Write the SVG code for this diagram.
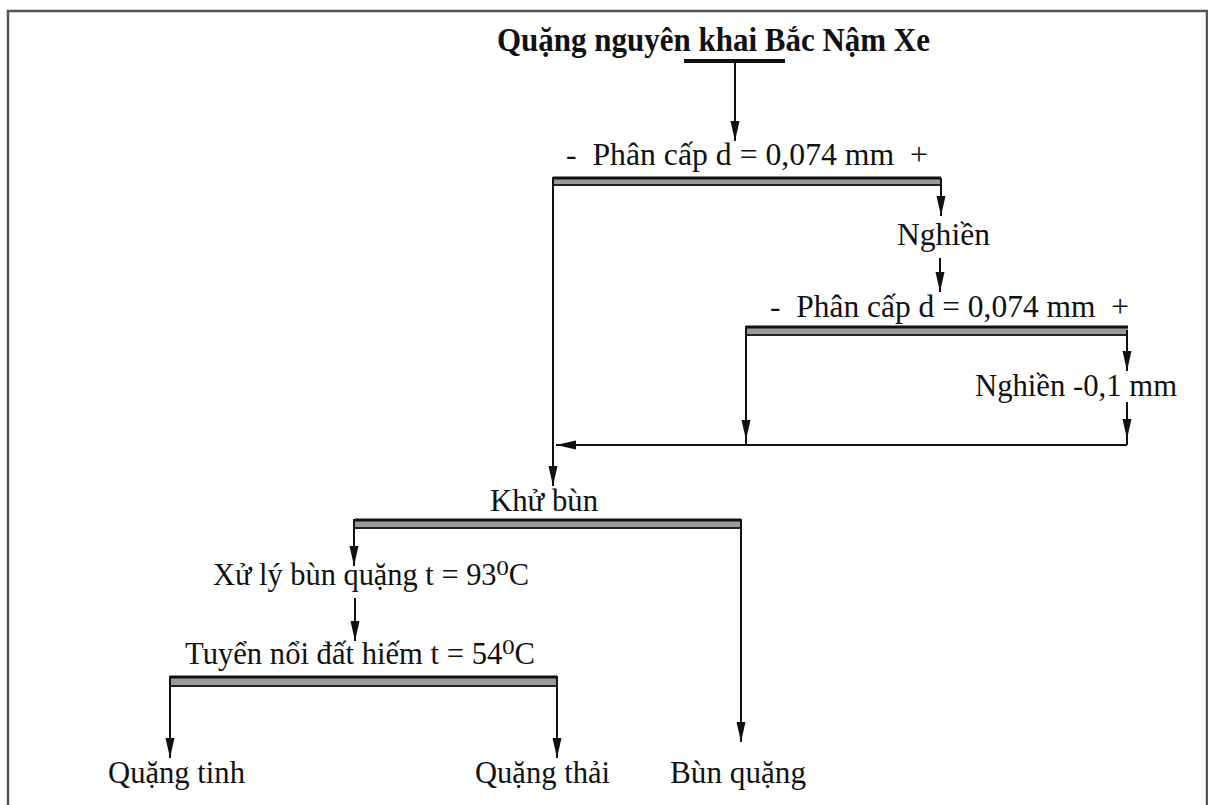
<svg xmlns="http://www.w3.org/2000/svg" width="1208" height="805" viewBox="0 0 1208 805">
<style>
  .t{font-family:"Liberation Serif","DejaVu Serif","Times New Roman",serif;font-size:32px;fill:#111;}
  .b{font-weight:bold;font-size:34px;}
  .ln{stroke:#111;stroke-width:2;fill:none;}
  .arr{stroke:#111;stroke-width:2;fill:none;marker-end:url(#ah);}
  .barfill{fill:#9a9a9a;}
  .bt{stroke:#111;stroke-width:3;}
  .bb{stroke:#222;stroke-width:2;}
</style>
<defs>
  <marker id="ah" markerUnits="userSpaceOnUse" markerWidth="20" markerHeight="10" refX="20" refY="5" orient="auto">
    <path d="M0,0.5 L20,5 L0,9.5 Z" fill="#111"/>
  </marker>
</defs>
<rect width="1208" height="805" fill="#fff"/>
<rect x="8" y="11" width="1199" height="830" fill="none" stroke="#555" stroke-width="2.5"/>

<g id="connectors">
  <line x1="684" y1="61" x2="785" y2="61" stroke="#111" stroke-width="4"/>
  <path class="arr" d="M735,61 L735,141"/>
  <rect class="barfill" x="553" y="177" width="388" height="9"/>
  <line class="bt" x1="553" y1="178" x2="941" y2="178"/>
  <line class="bb" x1="553" y1="185" x2="941" y2="185"/>
  <path class="ln" d="M553,177 L553,460"/>
  <path class="arr" d="M553,455 L553,486"/>
  <path class="arr" d="M941,178 L941,216"/>
  <path class="arr" d="M940,258 L940,292"/>
  <rect class="barfill" x="746" y="326" width="382" height="10"/>
  <line class="bt" x1="746" y1="327" x2="1128" y2="327"/>
  <line class="bb" x1="746" y1="335" x2="1128" y2="335"/>
  <path class="arr" d="M746,326 L746,440"/>
  <path class="ln" d="M746,438 L746,445"/>
  <path class="arr" d="M1127,330 L1127,371"/>
  <path class="arr" d="M1127,402 L1127,439"/>
  <path class="ln" d="M1127,437 L1127,445"/>
  <path class="arr" d="M1127,445 L556,445"/>
  <rect class="barfill" x="355" y="519" width="386" height="10"/>
  <line class="bt" x1="355" y1="520" x2="741" y2="520"/>
  <line class="bb" x1="355" y1="528" x2="741" y2="528"/>
  <path class="arr" d="M354,519 L354,566"/>
  <path class="arr" d="M741,519 L741,742"/>
  <path class="arr" d="M355,598 L355,641"/>
  <rect class="barfill" x="170" y="676" width="387" height="11"/>
  <line class="bt" x1="170" y1="677" x2="557" y2="677"/>
  <line class="bb" x1="170" y1="686" x2="557" y2="686"/>
  <path class="arr" d="M170,676 L170,758"/>
  <path class="arr" d="M557,676 L557,758"/>
</g>

<g id="n-title"><text class="t b" x="497" y="51" textLength="433" lengthAdjust="spacingAndGlyphs">Quặng nguyên khai Bắc Nậm Xe</text></g>
<g id="n-phancap1"><text class="t" x="566" y="165" textLength="362" lengthAdjust="spacingAndGlyphs" xml:space="preserve">-  Phân cấp d = 0,074 mm  +</text></g>
<g id="n-nghien"><text class="t" x="897" y="245" textLength="93" lengthAdjust="spacingAndGlyphs">Nghiền</text></g>
<g id="n-phancap2"><text class="t" x="770" y="317" textLength="359" lengthAdjust="spacingAndGlyphs" xml:space="preserve">-  Phân cấp d = 0,074 mm  +</text></g>
<g id="n-nghien01"><text class="t" x="975" y="396" textLength="202" lengthAdjust="spacingAndGlyphs">Nghiền -0,1 mm</text></g>
<g id="n-khubun"><text class="t" x="490" y="511" textLength="108" lengthAdjust="spacingAndGlyphs">Khử bùn</text></g>
<g id="n-xuly"><text class="t" x="213" y="585" textLength="316" lengthAdjust="spacingAndGlyphs">Xử lý bùn quặng t = 93⁰C</text></g>
<g id="n-tuyen"><text class="t" x="185" y="664" textLength="350" lengthAdjust="spacingAndGlyphs">Tuyển nổi đất hiếm t = 54⁰C</text></g>
<g id="n-quangtinh"><text class="t" x="108" y="783" textLength="137" lengthAdjust="spacingAndGlyphs">Quặng tinh</text></g>
<g id="n-quangthai"><text class="t" x="475" y="783" textLength="135" lengthAdjust="spacingAndGlyphs">Quặng thải</text></g>
<g id="n-bunquang"><text class="t" x="670" y="783" textLength="136" lengthAdjust="spacingAndGlyphs">Bùn quặng</text></g>
</svg>
